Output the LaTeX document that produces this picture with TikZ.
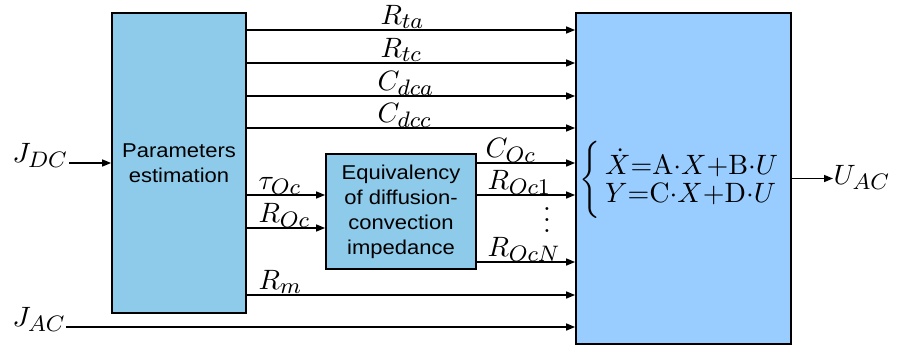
\documentclass[tikz,border=0pt]{standalone}
\usepackage{amsmath}
\usepackage{graphicx}
\usepackage{fontspec}
\newfontfamily\boxfont[FakeStretch=1.1]{Liberation Sans}
\DeclareMathSizes{10}{10}{8}{6}
\usetikzlibrary{arrows.meta}
\definecolor{boxA}{RGB}{142,203,234}
\definecolor{boxB}{RGB}{153,204,255}
\tikzset{
  blockA/.style={draw=black, line width=1.8pt, fill=boxA, align=center,
    font=\boxfont\fontsize{20}{25}\selectfont, inner sep=0pt},
  blockB/.style={draw=black, line width=1.8pt, fill=boxB, inner sep=0pt},
  lab/.style={inner sep=0pt, font=\fontsize{10}{12}\selectfont, scale=2.8, transform shape, anchor=base west},
  arr/.style={line width=1.5pt, -{Triangle[length=9pt,width=7pt]}}
}
\begin{document}
\begin{tikzpicture}[x=1pt,y=-1pt]
\useasboundingbox (0,0) rectangle (901,346);
% boxes
\node[blockA, minimum width=134pt, minimum height=300pt] (pe) at (179,163) {Parameters\\estimation};
\node[blockA, minimum width=150pt, minimum height=115pt] (eq) at (401,211.5) {Equivalency\\of diffusion-\\convection\\impedance};
\node[blockB, minimum width=215pt, minimum height=331pt] (ss) at (683.5,178.5) {};
% equation
\node[inner sep=0pt, anchor=west, font=\fontsize{10}{12}\selectfont, scale=2.8, transform shape] (sys) at (579,180)
  {\def\arraystretch{0.8}$\vcenter{\hbox{\scalebox{1}[1.15]{$\biggl\{$}}}\begin{array}{@{\,}l@{}}\dot{X}{=}\mathrm{A}{\cdot}X{+}\mathrm{B}{\cdot}U\\ Y{=}\mathrm{C}{\cdot}X{+}\mathrm{D}{\cdot}U\end{array}$};
% input / output labels
\node[lab] (jdc) at (12,162) {$J_{DC}$};
\node[lab] (jac) at (12,326) {$J_{AC}$};
\node[lab] (uac) at (833,184) {$U_{AC}$};
% parameter labels
\node[lab] (rta) at (380,24) {$R_{ta}$};
\node[lab] (rtc) at (380,57) {$R_{tc}$};
\node[lab] (cdca) at (377,90) {$C_{dca}$};
\node[lab] (cdcc) at (377,122) {$C_{dcc}$};
\node[lab] (tau) at (258,189) {$\tau_{Oc}$};
\node[lab] (roc) at (258,222) {$R_{Oc}$};
\node[lab] (rm) at (258,289) {$R_{m}$};
\node[lab] (coc) at (485,157) {$C_{Oc}$};
\node[lab] (roc1) at (487,189) {$R_{Oc1}$};
\node[lab] (rocn) at (487,256) {$R_{OcN}$};
\node[inner sep=0pt, font=\fontsize{10}{12}\selectfont, scale=2.8, transform shape, anchor=south] (vd) at (547,233) {$\vdots$};
% connectors
\draw[arr] (jdc.east |- pe.west) -- (pe.west);
\draw[arr] (pe.east |- 0,30) -- (ss.west |- 0,30);
\draw[arr] (pe.east |- 0,63) -- (ss.west |- 0,63);
\draw[arr] (pe.east |- 0,96) -- (ss.west |- 0,96);
\draw[arr] (pe.east |- 0,128) -- (ss.west |- 0,128);
\draw[arr] (pe.east |- 0,195) -- (eq.west |- 0,195);
\draw[arr] (pe.east |- 0,228) -- (eq.west |- 0,228);
\draw[arr] (eq.east |- 0,163) -- (ss.west |- 0,163);
\draw[arr] (eq.east |- 0,195) -- (ss.west |- 0,195);
\draw[arr] (eq.east |- 0,262) -- (ss.west |- 0,262);
\draw[arr] (pe.east |- 0,295) -- (ss.west |- 0,295);
\draw[arr] (jac.east |- 0,327) -- (ss.west |- 0,327);
\draw[arr] (ss.east) -- (uac.west |- ss.east);
\end{tikzpicture}
\end{document}
